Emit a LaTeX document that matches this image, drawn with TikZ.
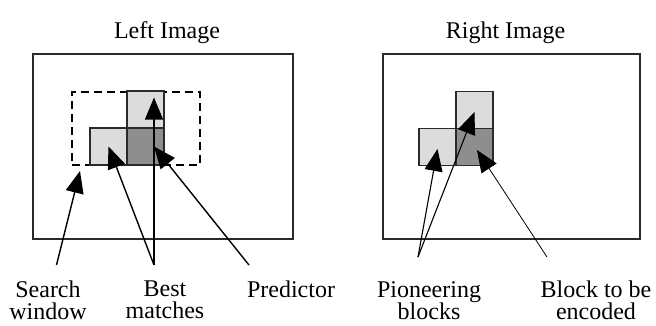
\documentclass[tikz,border=0pt]{standalone}
\usepackage{fontspec}
\setmainfont{Liberation Serif}
\usepackage{xcolor}
\definecolor{clLight}{HTML}{DCDCDC}
\definecolor{clDark}{HTML}{8E8E8E}
\definecolor{clEdge}{HTML}{2A2A2A}
\usetikzlibrary{arrows.meta,positioning}
\tikzset{
  frame/.style={rectangle, draw=clEdge, line width=1.3pt, inner sep=0pt, outer sep=0pt,
                minimum width=260pt, minimum height=185pt},
  window/.style={rectangle, draw=black, line width=1.6pt, dash pattern=on 8pt off 5pt,
                 inner sep=0pt, outer sep=0pt, minimum width=128pt, minimum height=73pt},
  blk/.style={rectangle, draw=clEdge, line width=1.1pt, inner sep=0pt, outer sep=0pt,
              minimum size=37pt},
  litblk/.style={blk, fill=clLight},
  darkblk/.style={blk, fill=clDark},
  ptr/.style={-{Triangle[length=22pt, width=18pt]}, line width=1.4pt, draw=black},
  title/.style={font=\fontsize{24}{22}\selectfont, inner sep=0pt},
  lbl/.style={font=\fontsize{24}{22}\selectfont, align=center, inner sep=0pt, anchor=north},
}

\begin{document}
\begin{tikzpicture}[x=1pt, y=-1pt, node distance=10pt]
  \useasboundingbox (0,0) rectangle (656,325);
  % left image
  \node[frame] (lframe) at (163,146.5) {};
  \node[title, above=10pt of lframe, xshift=4pt] (ltitle) {Left Image};
  \node[window] (win) at (136,128.5) {};
  \node[darkblk] (lcur) at (145.5,146.5) {};
  \node[litblk, above=0pt of lcur] (lup) {};
  \node[litblk, left=0pt of lcur] (lleft) {};
  % right image
  \node[frame, minimum width=257pt] (rframe) at (511.5,146.5) {};
  \node[title, above=10pt of rframe, xshift=-6pt] (rtitle) {Right Image};
  \node[darkblk] (rcur) at (474.5,147) {};
  \node[litblk, above=0pt of rcur] (rup) {};
  \node[litblk, left=0pt of rcur] (rleft) {};
  % labels
  \node[lbl] (lsearch) at (48,281) {Search\\window};
  \node[lbl] (lbest) at (165,281) {Best\\matches};
  \node[lbl] (lpred) at (291,281) {Predictor};
  \node[lbl] (lpion) at (429,281) {Pioneering\\blocks};
  \node[lbl] (lenc) at (596,281) {Block to be\\encoded};
  % arrow tails and free tips
  \coordinate (swtail) at (56.5,265);
  \coordinate (swtip) at (80,171);
  \coordinate (bmtail) at (154,265);
  \coordinate (prtail) at (249,265);
  \coordinate (pbtail) at (418,257);
  \coordinate (betail) at (547,257);
  \draw[ptr] (swtail) -- (swtip);
  \draw[ptr] (bmtail) -- (lleft.center);
  \draw[ptr] (bmtail) -- ([xshift=8.5pt, yshift=12pt]lup.center);
  \draw[ptr] (prtail) -- ([xshift=8.5pt]lcur.center);
  \draw[ptr, line width=1.1pt] (pbtail) -- ([yshift=-2pt]rleft.center);
  \draw[ptr, line width=1.1pt] (pbtail) -- ([yshift=-2pt]rup.center);
  \draw[ptr, line width=0.8pt] (betail) -- ([xshift=2.5pt, yshift=-3pt]rcur.center);
\end{tikzpicture}
\end{document}
